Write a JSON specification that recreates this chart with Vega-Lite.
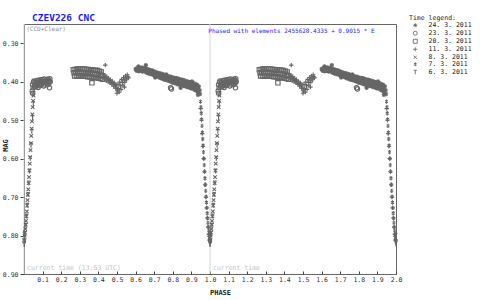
{
"$schema": "https://vega.github.io/schema/vega-lite/v6.json",
"width": 372, "height": 250,
"autosize": {"type": "none"},
"padding": {"left": 24, "top": 24, "right": 84, "bottom": 26},
"background": "white",
"title": {"text": "CZEV226 CNC", "anchor": "start", "dx": 31, "offset": -7.5, "font": "DejaVu Sans Mono", "fontSize": 9.5, "fontWeight": "bold", "color": "#1a1aff"},
"config": {
"font": "DejaVu Sans Mono",
"view": {"stroke": "#666666", "strokeWidth": 1},
"axis": {"grid": false, "domain": false, "labelFont": "DejaVu Sans Mono", "labelFontSize": 6.5, "labelColor": "#333333", "tickColor": "#444444", "titleFont": "DejaVu Sans Mono", "titleFontSize": 7, "titleFontWeight": "bold", "titleColor": "#222222", "labelOverlap": false}
},
"datasets": {
"notes": [{"p": 0, "t": "current time (13:53 UTC)"}, {"p": 1, "t": "current time"}],
"pts": [
{"p":0.001,"m":0.812,"d":"8"},{"p":0.003,"m":0.8,"d":"8"},{"p":0.005,"m":0.792,"d":"8"},{"p":0.007,"m":0.783,"d":"8"},{"p":0.009,"m":0.772,"d":"8"},{"p":0.011,"m":0.762,"d":"8"},{"p":0.013,"m":0.75,"d":"8"},{"p":0.015,"m":0.737,"d":"8"},{"p":0.017,"m":0.722,"d":"8"},{"p":0.019,"m":0.708,"d":"8"},{"p":0.021,"m":0.694,"d":"8"},{"p":0.023,"m":0.68,"d":"8"},{"p":0.025,"m":0.664,"d":"8"},{"p":0.027,"m":0.648,"d":"8"},{"p":0.029,"m":0.631,"d":"8"},{"p":0.031,"m":0.613,"d":"8"},{"p":0.033,"m":0.596,"d":"8"},{"p":0.035,"m":0.578,"d":"8"},{"p":0.037,"m":0.56,"d":"8"},{"p":0.039,"m":0.541,"d":"8"},{"p":0.041,"m":0.522,"d":"8"},{"p":0.043,"m":0.503,"d":"8"},{"p":0.045,"m":0.485,"d":"8"},{"p":0.047,"m":0.466,"d":"8"},{"p":0.049,"m":0.45,"d":"8"},{"p":0.051,"m":0.436,"d":"8"},
{"p":0.002,"m":0.818,"d":"6"},{"p":0.006,"m":0.795,"d":"6"},{"p":0.01,"m":0.774,"d":"6"},{"p":0.014,"m":0.75,"d":"6"},{"p":0.018,"m":0.722,"d":"6"},{"p":0.022,"m":0.694,"d":"6"},{"p":0.026,"m":0.664,"d":"6"},{"p":0.03,"m":0.633,"d":"6"},{"p":0.034,"m":0.6,"d":"6"},{"p":0.038,"m":0.566,"d":"6"},{"p":0.042,"m":0.53,"d":"6"},{"p":0.046,"m":0.494,"d":"6"},{"p":0.05,"m":0.458,"d":"6"},{"p":0.053,"m":0.432,"d":"6"},
{"p":0.995,"m":0.808,"d":"6"},{"p":0.997,"m":0.817,"d":"6"},{"p":0.999,"m":0.822,"d":"6"},{"p":0.001,"m":0.824,"d":"6"},{"p":0.003,"m":0.815,"d":"6"},{"p":0.004,"m":0.806,"d":"6"},{"p":0.998,"m":0.8,"d":"6"},{"p":0.002,"m":0.797,"d":"6"},
{"p":0.949,"m":0.452,"d":"7"},{"p":0.951,"m":0.466,"d":"7"},{"p":0.953,"m":0.482,"d":"7"},{"p":0.955,"m":0.498,"d":"7"},{"p":0.957,"m":0.515,"d":"7"},{"p":0.959,"m":0.532,"d":"7"},{"p":0.961,"m":0.549,"d":"7"},{"p":0.963,"m":0.566,"d":"7"},{"p":0.965,"m":0.583,"d":"7"},{"p":0.967,"m":0.6,"d":"7"},{"p":0.969,"m":0.617,"d":"7"},{"p":0.971,"m":0.634,"d":"7"},{"p":0.973,"m":0.651,"d":"7"},{"p":0.975,"m":0.668,"d":"7"},{"p":0.977,"m":0.684,"d":"7"},{"p":0.979,"m":0.699,"d":"7"},{"p":0.981,"m":0.714,"d":"7"},{"p":0.983,"m":0.728,"d":"7"},{"p":0.985,"m":0.742,"d":"7"},{"p":0.987,"m":0.755,"d":"7"},{"p":0.989,"m":0.767,"d":"7"},{"p":0.991,"m":0.778,"d":"7"},{"p":0.993,"m":0.788,"d":"7"},{"p":0.995,"m":0.797,"d":"7"},{"p":0.997,"m":0.805,"d":"7"},{"p":0.999,"m":0.812,"d":"7"},
{"p":0.95,"m":0.47,"d":"11"},{"p":0.954,"m":0.5,"d":"11"},{"p":0.958,"m":0.535,"d":"11"},{"p":0.962,"m":0.568,"d":"11"},{"p":0.966,"m":0.6,"d":"11"},{"p":0.97,"m":0.634,"d":"11"},{"p":0.974,"m":0.668,"d":"11"},{"p":0.978,"m":0.7,"d":"11"},{"p":0.982,"m":0.728,"d":"11"},{"p":0.986,"m":0.754,"d":"11"},{"p":0.99,"m":0.778,"d":"11"},{"p":0.994,"m":0.797,"d":"11"},{"p":0.998,"m":0.812,"d":"11"},
{"p":0.044,"m":0.424,"d":"23"},{"p":0.046,"m":0.408,"d":"23"},{"p":0.049,"m":0.416,"d":"23"},{"p":0.051,"m":0.401,"d":"23"},{"p":0.054,"m":0.398,"d":"23"},{"p":0.056,"m":0.411,"d":"23"},{"p":0.059,"m":0.414,"d":"23"},{"p":0.061,"m":0.403,"d":"23"},{"p":0.064,"m":0.4,"d":"23"},{"p":0.066,"m":0.409,"d":"23"},{"p":0.069,"m":0.411,"d":"23"},{"p":0.071,"m":0.397,"d":"23"},{"p":0.074,"m":0.404,"d":"23"},{"p":0.076,"m":0.415,"d":"23"},{"p":0.079,"m":0.396,"d":"23"},{"p":0.081,"m":0.407,"d":"23"},{"p":0.084,"m":0.41,"d":"23"},{"p":0.086,"m":0.4,"d":"23"},{"p":0.089,"m":0.395,"d":"23"},{"p":0.091,"m":0.405,"d":"23"},{"p":0.094,"m":0.408,"d":"23"},{"p":0.096,"m":0.399,"d":"23"},{"p":0.099,"m":0.394,"d":"23"},{"p":0.101,"m":0.403,"d":"23"},{"p":0.104,"m":0.401,"d":"23"},{"p":0.106,"m":0.411,"d":"23"},{"p":0.109,"m":0.393,"d":"23"},{"p":0.111,"m":0.399,"d":"23"},{"p":0.114,"m":0.406,"d":"23"},{"p":0.116,"m":0.4,"d":"23"},{"p":0.119,"m":0.395,"d":"23"},{"p":0.121,"m":0.403,"d":"23"},{"p":0.124,"m":0.399,"d":"23"},{"p":0.126,"m":0.408,"d":"23"},{"p":0.129,"m":0.393,"d":"23"},{"p":0.131,"m":0.401,"d":"23"},{"p":0.134,"m":0.404,"d":"23"},{"p":0.136,"m":0.397,"d":"23"},{"p":0.139,"m":0.392,"d":"23"},{"p":0.141,"m":0.4,"d":"23"},{"p":0.137,"m":0.416,"d":"23"},{"p":0.046,"m":0.43,"d":"23"},
{"p":0.265,"m":0.369,"d":"20"},{"p":0.269,"m":0.377,"d":"20"},{"p":0.272,"m":0.385,"d":"20"},{"p":0.275,"m":0.368,"d":"20"},{"p":0.279,"m":0.376,"d":"20"},{"p":0.282,"m":0.385,"d":"20"},{"p":0.285,"m":0.367,"d":"20"},{"p":0.289,"m":0.377,"d":"20"},{"p":0.292,"m":0.385,"d":"20"},{"p":0.295,"m":0.367,"d":"20"},{"p":0.299,"m":0.375,"d":"20"},{"p":0.302,"m":0.385,"d":"20"},{"p":0.305,"m":0.367,"d":"20"},{"p":0.309,"m":0.377,"d":"20"},{"p":0.312,"m":0.385,"d":"20"},{"p":0.315,"m":0.367,"d":"20"},{"p":0.319,"m":0.376,"d":"20"},{"p":0.322,"m":0.386,"d":"20"},{"p":0.325,"m":0.367,"d":"20"},{"p":0.329,"m":0.378,"d":"20"},{"p":0.332,"m":0.386,"d":"20"},{"p":0.335,"m":0.368,"d":"20"},{"p":0.339,"m":0.377,"d":"20"},{"p":0.342,"m":0.387,"d":"20"},{"p":0.345,"m":0.368,"d":"20"},{"p":0.349,"m":0.379,"d":"20"},{"p":0.352,"m":0.387,"d":"20"},{"p":0.355,"m":0.369,"d":"20"},{"p":0.359,"m":0.378,"d":"20"},{"p":0.362,"m":0.388,"d":"20"},{"p":0.365,"m":0.369,"d":"20"},{"p":0.369,"m":0.38,"d":"20"},{"p":0.372,"m":0.389,"d":"20"},{"p":0.375,"m":0.37,"d":"20"},{"p":0.379,"m":0.379,"d":"20"},{"p":0.382,"m":0.39,"d":"20"},{"p":0.385,"m":0.37,"d":"20"},{"p":0.389,"m":0.381,"d":"20"},{"p":0.392,"m":0.39,"d":"20"},{"p":0.395,"m":0.371,"d":"20"},{"p":0.399,"m":0.38,"d":"20"},{"p":0.402,"m":0.391,"d":"20"},{"p":0.405,"m":0.373,"d":"20"},{"p":0.409,"m":0.383,"d":"20"},{"p":0.412,"m":0.392,"d":"20"},{"p":0.415,"m":0.375,"d":"20"},{"p":0.419,"m":0.385,"d":"20"},{"p":0.422,"m":0.394,"d":"20"},{"p":0.365,"m":0.403,"d":"20"},
{"p":0.425,"m":0.379,"d":"11"},{"p":0.429,"m":0.387,"d":"11"},{"p":0.432,"m":0.395,"d":"11"},{"p":0.435,"m":0.383,"d":"11"},{"p":0.439,"m":0.39,"d":"11"},{"p":0.442,"m":0.398,"d":"11"},{"p":0.445,"m":0.387,"d":"11"},{"p":0.449,"m":0.393,"d":"11"},{"p":0.452,"m":0.4,"d":"11"},{"p":0.455,"m":0.391,"d":"11"},{"p":0.459,"m":0.397,"d":"11"},{"p":0.462,"m":0.403,"d":"11"},{"p":0.465,"m":0.395,"d":"11"},{"p":0.469,"m":0.401,"d":"11"},{"p":0.472,"m":0.407,"d":"11"},{"p":0.475,"m":0.399,"d":"11"},{"p":0.479,"m":0.405,"d":"11"},{"p":0.482,"m":0.412,"d":"11"},{"p":0.485,"m":0.403,"d":"11"},{"p":0.489,"m":0.41,"d":"11"},{"p":0.492,"m":0.417,"d":"11"},{"p":0.495,"m":0.408,"d":"11"},{"p":0.499,"m":0.416,"d":"11"},{"p":0.502,"m":0.424,"d":"11"},{"p":0.505,"m":0.407,"d":"11"},{"p":0.509,"m":0.418,"d":"11"},{"p":0.512,"m":0.427,"d":"11"},{"p":0.515,"m":0.401,"d":"11"},{"p":0.519,"m":0.411,"d":"11"},{"p":0.522,"m":0.42,"d":"11"},{"p":0.525,"m":0.394,"d":"11"},{"p":0.529,"m":0.402,"d":"11"},{"p":0.532,"m":0.409,"d":"11"},{"p":0.535,"m":0.389,"d":"11"},{"p":0.539,"m":0.396,"d":"11"},{"p":0.542,"m":0.401,"d":"11"},{"p":0.545,"m":0.385,"d":"11"},{"p":0.549,"m":0.391,"d":"11"},{"p":0.552,"m":0.395,"d":"11"},{"p":0.555,"m":0.382,"d":"11"},{"p":0.559,"m":0.387,"d":"11"},{"p":0.562,"m":0.39,"d":"11"},{"p":0.437,"m":0.357,"d":"11"},{"p":0.54,"m":0.414,"d":"11"},{"p":0.5,"m":0.43,"d":"11"},
{"p":0.6,"m":0.367,"d":"24"},{"p":0.604,"m":0.37,"d":"24"},{"p":0.607,"m":0.372,"d":"24"},{"p":0.61,"m":0.365,"d":"24"},{"p":0.614,"m":0.369,"d":"24"},{"p":0.617,"m":0.373,"d":"24"},{"p":0.62,"m":0.364,"d":"24"},{"p":0.624,"m":0.368,"d":"24"},{"p":0.627,"m":0.372,"d":"24"},{"p":0.63,"m":0.363,"d":"24"},{"p":0.634,"m":0.367,"d":"24"},{"p":0.637,"m":0.374,"d":"24"},{"p":0.64,"m":0.364,"d":"24"},{"p":0.644,"m":0.369,"d":"24"},{"p":0.647,"m":0.373,"d":"24"},{"p":0.65,"m":0.365,"d":"24"},{"p":0.654,"m":0.371,"d":"24"},{"p":0.657,"m":0.376,"d":"24"},{"p":0.66,"m":0.367,"d":"24"},{"p":0.664,"m":0.372,"d":"24"},{"p":0.667,"m":0.378,"d":"24"},{"p":0.67,"m":0.368,"d":"24"},{"p":0.674,"m":0.374,"d":"24"},{"p":0.677,"m":0.38,"d":"24"},{"p":0.68,"m":0.37,"d":"24"},{"p":0.684,"m":0.376,"d":"24"},{"p":0.687,"m":0.381,"d":"24"},{"p":0.69,"m":0.371,"d":"24"},{"p":0.694,"m":0.377,"d":"24"},{"p":0.697,"m":0.383,"d":"24"},{"p":0.7,"m":0.373,"d":"24"},{"p":0.704,"m":0.379,"d":"24"},{"p":0.707,"m":0.385,"d":"24"},{"p":0.71,"m":0.375,"d":"24"},{"p":0.714,"m":0.381,"d":"24"},{"p":0.717,"m":0.387,"d":"24"},{"p":0.72,"m":0.377,"d":"24"},{"p":0.724,"m":0.383,"d":"24"},{"p":0.727,"m":0.389,"d":"24"},{"p":0.73,"m":0.378,"d":"24"},{"p":0.734,"m":0.384,"d":"24"},{"p":0.737,"m":0.391,"d":"24"},{"p":0.74,"m":0.38,"d":"24"},{"p":0.744,"m":0.387,"d":"24"},{"p":0.747,"m":0.393,"d":"24"},{"p":0.75,"m":0.381,"d":"24"},{"p":0.754,"m":0.388,"d":"24"},{"p":0.757,"m":0.395,"d":"24"},{"p":0.76,"m":0.383,"d":"24"},{"p":0.764,"m":0.39,"d":"24"},{"p":0.767,"m":0.396,"d":"24"},{"p":0.77,"m":0.385,"d":"24"},{"p":0.774,"m":0.392,"d":"24"},{"p":0.777,"m":0.398,"d":"24"},{"p":0.78,"m":0.386,"d":"24"},{"p":0.784,"m":0.393,"d":"24"},{"p":0.787,"m":0.4,"d":"24"},{"p":0.79,"m":0.387,"d":"24"},{"p":0.794,"m":0.395,"d":"24"},{"p":0.797,"m":0.402,"d":"24"},{"p":0.8,"m":0.389,"d":"24"},{"p":0.804,"m":0.396,"d":"24"},{"p":0.807,"m":0.403,"d":"24"},{"p":0.81,"m":0.39,"d":"24"},{"p":0.814,"m":0.398,"d":"24"},{"p":0.817,"m":0.405,"d":"24"},{"p":0.82,"m":0.391,"d":"24"},{"p":0.824,"m":0.399,"d":"24"},{"p":0.827,"m":0.407,"d":"24"},{"p":0.83,"m":0.392,"d":"24"},{"p":0.834,"m":0.4,"d":"24"},{"p":0.837,"m":0.408,"d":"24"},{"p":0.84,"m":0.394,"d":"24"},{"p":0.844,"m":0.401,"d":"24"},{"p":0.847,"m":0.409,"d":"24"},{"p":0.85,"m":0.395,"d":"24"},{"p":0.854,"m":0.403,"d":"24"},{"p":0.857,"m":0.411,"d":"24"},{"p":0.86,"m":0.396,"d":"24"},{"p":0.864,"m":0.404,"d":"24"},{"p":0.867,"m":0.412,"d":"24"},{"p":0.87,"m":0.398,"d":"24"},{"p":0.874,"m":0.406,"d":"24"},{"p":0.877,"m":0.414,"d":"24"},{"p":0.88,"m":0.399,"d":"24"},{"p":0.884,"m":0.407,"d":"24"},{"p":0.887,"m":0.415,"d":"24"},{"p":0.89,"m":0.401,"d":"24"},{"p":0.894,"m":0.409,"d":"24"},{"p":0.897,"m":0.417,"d":"24"},{"p":0.9,"m":0.402,"d":"24"},{"p":0.904,"m":0.41,"d":"24"},{"p":0.907,"m":0.418,"d":"24"},{"p":0.91,"m":0.404,"d":"24"},{"p":0.914,"m":0.412,"d":"24"},{"p":0.917,"m":0.421,"d":"24"},{"p":0.92,"m":0.406,"d":"24"},{"p":0.924,"m":0.415,"d":"24"},{"p":0.927,"m":0.424,"d":"24"},{"p":0.93,"m":0.408,"d":"24"},{"p":0.934,"m":0.417,"d":"24"},{"p":0.937,"m":0.427,"d":"24"},{"p":0.94,"m":0.412,"d":"24"},{"p":0.944,"m":0.422,"d":"24"},{"p":0.946,"m":0.432,"d":"24"},{"p":0.615,"m":0.36,"d":"24"},{"p":0.655,"m":0.357,"d":"24"},{"p":0.705,"m":0.389,"d":"24"},{"p":0.765,"m":0.381,"d":"24"},{"p":0.842,"m":0.416,"d":"24"},{"p":0.903,"m":0.399,"d":"24"},{"p":0.935,"m":0.434,"d":"24"},
{"p":0.788,"m":0.416,"d":"23"},{"p":0.793,"m":0.419,"d":"23"},
{"p":1.001,"m":0.812,"d":"8"},{"p":1.003,"m":0.8,"d":"8"},{"p":1.005,"m":0.792,"d":"8"},{"p":1.007,"m":0.783,"d":"8"},{"p":1.009,"m":0.772,"d":"8"},{"p":1.011,"m":0.762,"d":"8"},{"p":1.013,"m":0.75,"d":"8"},{"p":1.015,"m":0.737,"d":"8"},{"p":1.017,"m":0.722,"d":"8"},{"p":1.019,"m":0.708,"d":"8"},{"p":1.021,"m":0.694,"d":"8"},{"p":1.023,"m":0.68,"d":"8"},{"p":1.025,"m":0.664,"d":"8"},{"p":1.027,"m":0.648,"d":"8"},{"p":1.029,"m":0.631,"d":"8"},{"p":1.031,"m":0.613,"d":"8"},{"p":1.033,"m":0.596,"d":"8"},{"p":1.035,"m":0.578,"d":"8"},{"p":1.037,"m":0.56,"d":"8"},{"p":1.039,"m":0.541,"d":"8"},{"p":1.041,"m":0.522,"d":"8"},{"p":1.043,"m":0.503,"d":"8"},{"p":1.045,"m":0.485,"d":"8"},{"p":1.047,"m":0.466,"d":"8"},{"p":1.049,"m":0.45,"d":"8"},{"p":1.051,"m":0.436,"d":"8"},
{"p":1.002,"m":0.818,"d":"6"},{"p":1.006,"m":0.795,"d":"6"},{"p":1.01,"m":0.774,"d":"6"},{"p":1.014,"m":0.75,"d":"6"},{"p":1.018,"m":0.722,"d":"6"},{"p":1.022,"m":0.694,"d":"6"},{"p":1.026,"m":0.664,"d":"6"},{"p":1.03,"m":0.633,"d":"6"},{"p":1.034,"m":0.6,"d":"6"},{"p":1.038,"m":0.566,"d":"6"},{"p":1.042,"m":0.53,"d":"6"},{"p":1.046,"m":0.494,"d":"6"},{"p":1.05,"m":0.458,"d":"6"},{"p":1.053,"m":0.432,"d":"6"},
{"p":1.995,"m":0.808,"d":"6"},{"p":1.997,"m":0.817,"d":"6"},{"p":1.999,"m":0.822,"d":"6"},{"p":1.001,"m":0.824,"d":"6"},{"p":1.003,"m":0.815,"d":"6"},{"p":1.004,"m":0.806,"d":"6"},{"p":1.998,"m":0.8,"d":"6"},{"p":1.002,"m":0.797,"d":"6"},
{"p":1.949,"m":0.452,"d":"7"},{"p":1.951,"m":0.466,"d":"7"},{"p":1.953,"m":0.482,"d":"7"},{"p":1.955,"m":0.498,"d":"7"},{"p":1.957,"m":0.515,"d":"7"},{"p":1.959,"m":0.532,"d":"7"},{"p":1.961,"m":0.549,"d":"7"},{"p":1.963,"m":0.566,"d":"7"},{"p":1.965,"m":0.583,"d":"7"},{"p":1.967,"m":0.6,"d":"7"},{"p":1.969,"m":0.617,"d":"7"},{"p":1.971,"m":0.634,"d":"7"},{"p":1.973,"m":0.651,"d":"7"},{"p":1.975,"m":0.668,"d":"7"},{"p":1.977,"m":0.684,"d":"7"},{"p":1.979,"m":0.699,"d":"7"},{"p":1.981,"m":0.714,"d":"7"},{"p":1.983,"m":0.728,"d":"7"},{"p":1.985,"m":0.742,"d":"7"},{"p":1.987,"m":0.755,"d":"7"},{"p":1.989,"m":0.767,"d":"7"},{"p":1.991,"m":0.778,"d":"7"},{"p":1.993,"m":0.788,"d":"7"},{"p":1.995,"m":0.797,"d":"7"},{"p":1.997,"m":0.805,"d":"7"},{"p":1.999,"m":0.812,"d":"7"},
{"p":1.95,"m":0.47,"d":"11"},{"p":1.954,"m":0.5,"d":"11"},{"p":1.958,"m":0.535,"d":"11"},{"p":1.962,"m":0.568,"d":"11"},{"p":1.966,"m":0.6,"d":"11"},{"p":1.97,"m":0.634,"d":"11"},{"p":1.974,"m":0.668,"d":"11"},{"p":1.978,"m":0.7,"d":"11"},{"p":1.982,"m":0.728,"d":"11"},{"p":1.986,"m":0.754,"d":"11"},{"p":1.99,"m":0.778,"d":"11"},{"p":1.994,"m":0.797,"d":"11"},{"p":1.998,"m":0.812,"d":"11"},
{"p":1.044,"m":0.424,"d":"23"},{"p":1.046,"m":0.408,"d":"23"},{"p":1.049,"m":0.416,"d":"23"},{"p":1.051,"m":0.401,"d":"23"},{"p":1.054,"m":0.398,"d":"23"},{"p":1.056,"m":0.411,"d":"23"},{"p":1.059,"m":0.414,"d":"23"},{"p":1.061,"m":0.403,"d":"23"},{"p":1.064,"m":0.4,"d":"23"},{"p":1.066,"m":0.409,"d":"23"},{"p":1.069,"m":0.411,"d":"23"},{"p":1.071,"m":0.397,"d":"23"},{"p":1.074,"m":0.404,"d":"23"},{"p":1.076,"m":0.415,"d":"23"},{"p":1.079,"m":0.396,"d":"23"},{"p":1.081,"m":0.407,"d":"23"},{"p":1.084,"m":0.41,"d":"23"},{"p":1.086,"m":0.4,"d":"23"},{"p":1.089,"m":0.395,"d":"23"},{"p":1.091,"m":0.405,"d":"23"},{"p":1.094,"m":0.408,"d":"23"},{"p":1.096,"m":0.399,"d":"23"},{"p":1.099,"m":0.394,"d":"23"},{"p":1.101,"m":0.403,"d":"23"},{"p":1.104,"m":0.401,"d":"23"},{"p":1.106,"m":0.411,"d":"23"},{"p":1.109,"m":0.393,"d":"23"},{"p":1.111,"m":0.399,"d":"23"},{"p":1.114,"m":0.406,"d":"23"},{"p":1.116,"m":0.4,"d":"23"},{"p":1.119,"m":0.395,"d":"23"},{"p":1.121,"m":0.403,"d":"23"},{"p":1.124,"m":0.399,"d":"23"},{"p":1.126,"m":0.408,"d":"23"},{"p":1.129,"m":0.393,"d":"23"},{"p":1.131,"m":0.401,"d":"23"},{"p":1.134,"m":0.404,"d":"23"},{"p":1.136,"m":0.397,"d":"23"},{"p":1.139,"m":0.392,"d":"23"},{"p":1.141,"m":0.4,"d":"23"},{"p":1.137,"m":0.416,"d":"23"},{"p":1.046,"m":0.43,"d":"23"},
{"p":1.265,"m":0.369,"d":"20"},{"p":1.269,"m":0.377,"d":"20"},{"p":1.272,"m":0.385,"d":"20"},{"p":1.275,"m":0.368,"d":"20"},{"p":1.279,"m":0.376,"d":"20"},{"p":1.282,"m":0.385,"d":"20"},{"p":1.285,"m":0.367,"d":"20"},{"p":1.289,"m":0.377,"d":"20"},{"p":1.292,"m":0.385,"d":"20"},{"p":1.295,"m":0.367,"d":"20"},{"p":1.299,"m":0.375,"d":"20"},{"p":1.302,"m":0.385,"d":"20"},{"p":1.305,"m":0.367,"d":"20"},{"p":1.309,"m":0.377,"d":"20"},{"p":1.312,"m":0.385,"d":"20"},{"p":1.315,"m":0.367,"d":"20"},{"p":1.319,"m":0.376,"d":"20"},{"p":1.322,"m":0.386,"d":"20"},{"p":1.325,"m":0.367,"d":"20"},{"p":1.329,"m":0.378,"d":"20"},{"p":1.332,"m":0.386,"d":"20"},{"p":1.335,"m":0.368,"d":"20"},{"p":1.339,"m":0.377,"d":"20"},{"p":1.342,"m":0.387,"d":"20"},{"p":1.345,"m":0.368,"d":"20"},{"p":1.349,"m":0.379,"d":"20"},{"p":1.352,"m":0.387,"d":"20"},{"p":1.355,"m":0.369,"d":"20"},{"p":1.359,"m":0.378,"d":"20"},{"p":1.362,"m":0.388,"d":"20"},{"p":1.365,"m":0.369,"d":"20"},{"p":1.369,"m":0.38,"d":"20"},{"p":1.372,"m":0.389,"d":"20"},{"p":1.375,"m":0.37,"d":"20"},{"p":1.379,"m":0.379,"d":"20"},{"p":1.382,"m":0.39,"d":"20"},{"p":1.385,"m":0.37,"d":"20"},{"p":1.389,"m":0.381,"d":"20"},{"p":1.392,"m":0.39,"d":"20"},{"p":1.395,"m":0.371,"d":"20"},{"p":1.399,"m":0.38,"d":"20"},{"p":1.402,"m":0.391,"d":"20"},{"p":1.405,"m":0.373,"d":"20"},{"p":1.409,"m":0.383,"d":"20"},{"p":1.412,"m":0.392,"d":"20"},{"p":1.415,"m":0.375,"d":"20"},{"p":1.419,"m":0.385,"d":"20"},{"p":1.422,"m":0.394,"d":"20"},{"p":1.365,"m":0.403,"d":"20"},
{"p":1.425,"m":0.379,"d":"11"},{"p":1.429,"m":0.387,"d":"11"},{"p":1.432,"m":0.395,"d":"11"},{"p":1.435,"m":0.383,"d":"11"},{"p":1.439,"m":0.39,"d":"11"},{"p":1.442,"m":0.398,"d":"11"},{"p":1.445,"m":0.387,"d":"11"},{"p":1.449,"m":0.393,"d":"11"},{"p":1.452,"m":0.4,"d":"11"},{"p":1.455,"m":0.391,"d":"11"},{"p":1.459,"m":0.397,"d":"11"},{"p":1.462,"m":0.403,"d":"11"},{"p":1.465,"m":0.395,"d":"11"},{"p":1.469,"m":0.401,"d":"11"},{"p":1.472,"m":0.407,"d":"11"},{"p":1.475,"m":0.399,"d":"11"},{"p":1.479,"m":0.405,"d":"11"},{"p":1.482,"m":0.412,"d":"11"},{"p":1.485,"m":0.403,"d":"11"},{"p":1.489,"m":0.41,"d":"11"},{"p":1.492,"m":0.417,"d":"11"},{"p":1.495,"m":0.408,"d":"11"},{"p":1.499,"m":0.416,"d":"11"},{"p":1.502,"m":0.424,"d":"11"},{"p":1.505,"m":0.407,"d":"11"},{"p":1.509,"m":0.418,"d":"11"},{"p":1.512,"m":0.427,"d":"11"},{"p":1.515,"m":0.401,"d":"11"},{"p":1.519,"m":0.411,"d":"11"},{"p":1.522,"m":0.42,"d":"11"},{"p":1.525,"m":0.394,"d":"11"},{"p":1.529,"m":0.402,"d":"11"},{"p":1.532,"m":0.409,"d":"11"},{"p":1.535,"m":0.389,"d":"11"},{"p":1.539,"m":0.396,"d":"11"},{"p":1.542,"m":0.401,"d":"11"},{"p":1.545,"m":0.385,"d":"11"},{"p":1.549,"m":0.391,"d":"11"},{"p":1.552,"m":0.395,"d":"11"},{"p":1.555,"m":0.382,"d":"11"},{"p":1.559,"m":0.387,"d":"11"},{"p":1.562,"m":0.39,"d":"11"},{"p":1.437,"m":0.357,"d":"11"},{"p":1.54,"m":0.414,"d":"11"},{"p":1.5,"m":0.43,"d":"11"},
{"p":1.6,"m":0.367,"d":"24"},{"p":1.604,"m":0.37,"d":"24"},{"p":1.607,"m":0.372,"d":"24"},{"p":1.61,"m":0.365,"d":"24"},{"p":1.614,"m":0.369,"d":"24"},{"p":1.617,"m":0.373,"d":"24"},{"p":1.62,"m":0.364,"d":"24"},{"p":1.624,"m":0.368,"d":"24"},{"p":1.627,"m":0.372,"d":"24"},{"p":1.63,"m":0.363,"d":"24"},{"p":1.634,"m":0.367,"d":"24"},{"p":1.637,"m":0.374,"d":"24"},{"p":1.64,"m":0.364,"d":"24"},{"p":1.644,"m":0.369,"d":"24"},{"p":1.647,"m":0.373,"d":"24"},{"p":1.65,"m":0.365,"d":"24"},{"p":1.654,"m":0.371,"d":"24"},{"p":1.657,"m":0.376,"d":"24"},{"p":1.66,"m":0.367,"d":"24"},{"p":1.664,"m":0.372,"d":"24"},{"p":1.667,"m":0.378,"d":"24"},{"p":1.67,"m":0.368,"d":"24"},{"p":1.674,"m":0.374,"d":"24"},{"p":1.677,"m":0.38,"d":"24"},{"p":1.68,"m":0.37,"d":"24"},{"p":1.684,"m":0.376,"d":"24"},{"p":1.687,"m":0.381,"d":"24"},{"p":1.69,"m":0.371,"d":"24"},{"p":1.694,"m":0.377,"d":"24"},{"p":1.697,"m":0.383,"d":"24"},{"p":1.7,"m":0.373,"d":"24"},{"p":1.704,"m":0.379,"d":"24"},{"p":1.707,"m":0.385,"d":"24"},{"p":1.71,"m":0.375,"d":"24"},{"p":1.714,"m":0.381,"d":"24"},{"p":1.717,"m":0.387,"d":"24"},{"p":1.72,"m":0.377,"d":"24"},{"p":1.724,"m":0.383,"d":"24"},{"p":1.727,"m":0.389,"d":"24"},{"p":1.73,"m":0.378,"d":"24"},{"p":1.734,"m":0.384,"d":"24"},{"p":1.737,"m":0.391,"d":"24"},{"p":1.74,"m":0.38,"d":"24"},{"p":1.744,"m":0.387,"d":"24"},{"p":1.747,"m":0.393,"d":"24"},{"p":1.75,"m":0.381,"d":"24"},{"p":1.754,"m":0.388,"d":"24"},{"p":1.757,"m":0.395,"d":"24"},{"p":1.76,"m":0.383,"d":"24"},{"p":1.764,"m":0.39,"d":"24"},{"p":1.767,"m":0.396,"d":"24"},{"p":1.77,"m":0.385,"d":"24"},{"p":1.774,"m":0.392,"d":"24"},{"p":1.777,"m":0.398,"d":"24"},{"p":1.78,"m":0.386,"d":"24"},{"p":1.784,"m":0.393,"d":"24"},{"p":1.787,"m":0.4,"d":"24"},{"p":1.79,"m":0.387,"d":"24"},{"p":1.794,"m":0.395,"d":"24"},{"p":1.797,"m":0.402,"d":"24"},{"p":1.8,"m":0.389,"d":"24"},{"p":1.804,"m":0.396,"d":"24"},{"p":1.807,"m":0.403,"d":"24"},{"p":1.81,"m":0.39,"d":"24"},{"p":1.814,"m":0.398,"d":"24"},{"p":1.817,"m":0.405,"d":"24"},{"p":1.82,"m":0.391,"d":"24"},{"p":1.824,"m":0.399,"d":"24"},{"p":1.827,"m":0.407,"d":"24"},{"p":1.83,"m":0.392,"d":"24"},{"p":1.834,"m":0.4,"d":"24"},{"p":1.837,"m":0.408,"d":"24"},{"p":1.84,"m":0.394,"d":"24"},{"p":1.844,"m":0.401,"d":"24"},{"p":1.847,"m":0.409,"d":"24"},{"p":1.85,"m":0.395,"d":"24"},{"p":1.854,"m":0.403,"d":"24"},{"p":1.857,"m":0.411,"d":"24"},{"p":1.86,"m":0.396,"d":"24"},{"p":1.864,"m":0.404,"d":"24"},{"p":1.867,"m":0.412,"d":"24"},{"p":1.87,"m":0.398,"d":"24"},{"p":1.874,"m":0.406,"d":"24"},{"p":1.877,"m":0.414,"d":"24"},{"p":1.88,"m":0.399,"d":"24"},{"p":1.884,"m":0.407,"d":"24"},{"p":1.887,"m":0.415,"d":"24"},{"p":1.89,"m":0.401,"d":"24"},{"p":1.894,"m":0.409,"d":"24"},{"p":1.897,"m":0.417,"d":"24"},{"p":1.9,"m":0.402,"d":"24"},{"p":1.904,"m":0.41,"d":"24"},{"p":1.907,"m":0.418,"d":"24"},{"p":1.91,"m":0.404,"d":"24"},{"p":1.914,"m":0.412,"d":"24"},{"p":1.917,"m":0.421,"d":"24"},{"p":1.92,"m":0.406,"d":"24"},{"p":1.924,"m":0.415,"d":"24"},{"p":1.927,"m":0.424,"d":"24"},{"p":1.93,"m":0.408,"d":"24"},{"p":1.934,"m":0.417,"d":"24"},{"p":1.937,"m":0.427,"d":"24"},{"p":1.94,"m":0.412,"d":"24"},{"p":1.944,"m":0.422,"d":"24"},{"p":1.946,"m":0.432,"d":"24"},{"p":1.615,"m":0.36,"d":"24"},{"p":1.655,"m":0.357,"d":"24"},{"p":1.705,"m":0.389,"d":"24"},{"p":1.765,"m":0.381,"d":"24"},{"p":1.842,"m":0.416,"d":"24"},{"p":1.903,"m":0.399,"d":"24"},{"p":1.935,"m":0.434,"d":"24"},
{"p":1.788,"m":0.416,"d":"23"},{"p":1.793,"m":0.419,"d":"23"}
]
},
"layer": [
{"data": {"name": "notes"}, "mark": {"type": "rule", "color": "#d4d4d4", "strokeWidth": 1},
 "encoding": {"x": {"field": "p", "type": "quantitative", "scale": {"domain": [0, 2], "nice": false, "zero": false},
   "axis": {"title": "PHASE", "values": [0.1,0.2,0.3,0.4,0.5,0.6,0.7,0.8,0.9,1.0,1.1,1.2,1.3,1.4,1.5,1.6,1.7,1.8,1.9,2.0], "tickCount": 30, "format": ".1f", "tickSize": -3, "labelPadding": 5, "labelFlush": false, "labelOverlap": false, "titleX": 196, "titleY": 18, "titleBaseline": "middle"}}}},
{"data": {"name": "notes"}, "mark": {"type": "text", "align": "left", "baseline": "middle", "dx": 3, "fontSize": 6.5, "color": "#c4c4c4"},
 "encoding": {"x": {"field": "p", "type": "quantitative"}, "y": {"datum": 0.884}, "text": {"field": "t"}}},
{"data": {"name": "pts"}, "mark": {"type": "point", "filled": false, "strokeWidth": 1.1, "size": 19, "color": "#666666", "opacity": 1},
 "encoding": {
  "x": {"field": "p", "type": "quantitative"},
  "y": {"field": "m", "type": "quantitative", "scale": {"domain": [0.25, 0.9], "reverse": true, "nice": false, "zero": false},
    "axis": {"title": "MAG", "values": [0.3,0.4,0.5,0.6,0.7,0.8,0.9], "tickCount": 10, "format": ".2f", "tickSize": 4, "labelPadding": 2, "titleX": -19, "titleY": 121, "titleBaseline": "middle", "titleAngle": -90}},
  "shape": {"field": "d", "type": "nominal",
    "scale": {"domain": ["24","23","20","11","8","7","6"], "range": ["M-1,0H1M0,-1V1M-0.7,-0.7L0.7,0.7M-0.7,0.7L0.7,-0.7", "circle", "square", "M-1,0H1M0,-1V1", "M-0.8,-0.8L0.8,0.8M-0.8,0.8L0.8,-0.8", "M0,-1V1M-0.7,-0.4H0.7M-0.7,0.4H0.7", "M-0.8,-1H0.8M0,-1V1"]},
    "legend": {"orient": "none", "legendX": 385, "legendY": -9, "title": "Time legend:", "titleFont": "DejaVu Sans Mono", "titleFontSize": 6.5, "titleFontWeight": "normal", "titleColor": "#222222", "labelFont": "DejaVu Sans Mono", "labelFontSize": 6.5, "labelColor": "#222222", "symbolSize": 16, "symbolStrokeWidth": 0.9, "symbolStrokeColor": "#6b6b6b", "rowPadding": -3, "titlePadding": 0.5, "labelOffset": 10, "padding": 0, "symbolOffset": 3, "labelExpr": "datum.label + '. 3. 2011'"}}
 }},
{"data": {"values": [{"t": "(CCD+Clear)"}]}, "mark": {"type": "text", "align": "left", "baseline": "middle", "fontSize": 6, "color": "#8a8a8a"},
 "encoding": {"x": {"datum": 0.012}, "y": {"datum": 0.263}, "text": {"field": "t"}}},
{"data": {"values": [{"t": "Phased with elements 2455628.4335  + 0.9015 * E"}]}, "mark": {"type": "text", "align": "left", "baseline": "middle", "fontSize": 6, "color": "#1a1aff"},
 "encoding": {"x": {"datum": 0.991}, "y": {"datum": 0.268}, "text": {"field": "t"}}}
]
}
